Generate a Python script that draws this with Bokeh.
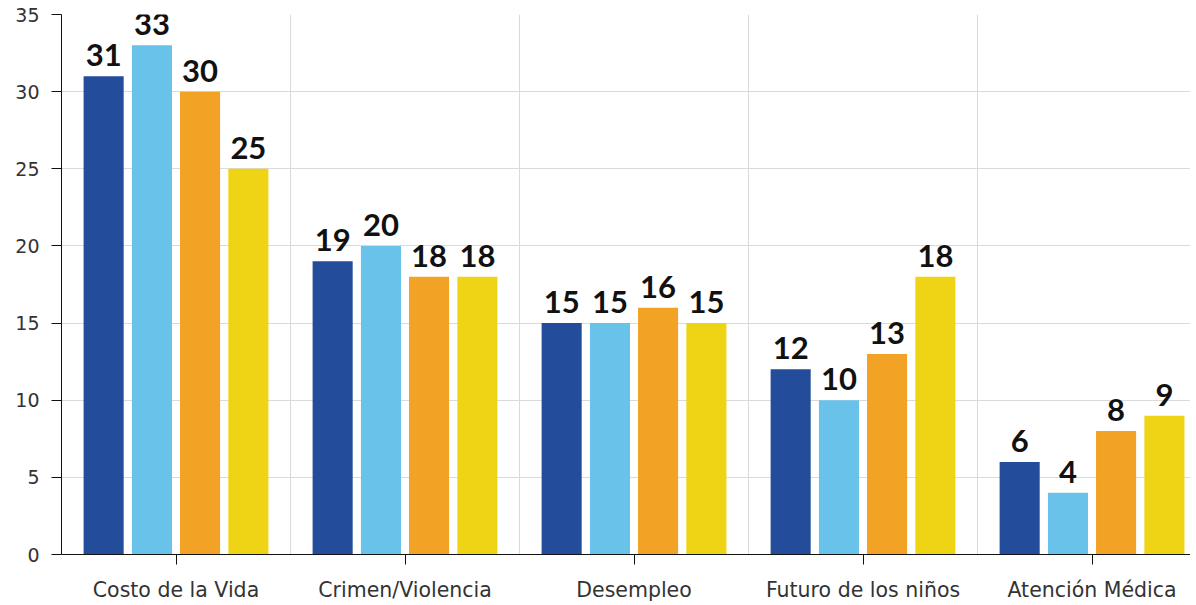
from bokeh.plotting import figure
from bokeh.models import ColumnDataSource, Range1d, FixedTicker
from bokeh.transform import dodge
from bokeh.core.properties import value
from bokeh.embed import file_html
from bokeh.resources import INLINE

categories = ["Costo de la Vida", "Crimen/Violencia", "Desempleo", "Futuro de los niños", "Atención Médica"]
serie_1 = [31, 19, 15, 12, 6]
serie_2 = [33, 20, 15, 10, 4]
serie_3 = [30, 18, 16, 13, 8]
serie_4 = [25, 18, 15, 18, 9]
y_ticks = [0, 5, 10, 15, 20, 25, 30, 35]

series = [serie_1, serie_2, serie_3, serie_4]
colors = ["#234D9B", "#69C2EA", "#F2A325", "#EFD416"]
offsets = [-0.316, -0.105, 0.105, 0.316]

centers = [i + 0.5 for i in range(len(categories))]

p = figure(width=1190, height=604, output_backend="svg", toolbar_location=None,
           x_range=Range1d(0, 4.93), y_range=Range1d(0, 35),
           min_border_left=61, min_border_right=0, min_border_top=14, min_border_bottom=49)
p.outline_line_color = None
p.background_fill_color = "white"
p.border_fill_color = "white"

for s, c, off in zip(series, colors, offsets):
    src = ColumnDataSource(dict(x=centers, v=s, t=[str(v) for v in s]))
    p.vbar(x=dodge("x", off, range=p.x_range), top="v", bottom=0, width=0.175,
           source=src, fill_color=c, line_color=None)
    p.text(x=dodge("x", off, range=p.x_range), y="v", text="t", source=src,
           text_align="center", text_baseline="alphabetic", y_offset=-21,
           text_font=value("Lato"), text_font_style="bold", text_font_size="31px",
           text_color="#111111")

p.xaxis.ticker = FixedTicker(ticks=centers)
p.xaxis.major_label_overrides = {c: lab for c, lab in zip(centers, categories)}
p.xaxis.minor_tick_line_color = None
p.xaxis.major_tick_in = 0
p.xaxis.major_tick_out = 10
p.xaxis.axis_line_color = "#111111"
p.xaxis.major_tick_line_color = "#111111"
p.xaxis.major_label_text_font = "DejaVu Sans"
p.xaxis.major_label_text_font_size = "20.5px"
p.xaxis.major_label_text_color = "#333333"
p.xaxis.major_label_standoff = 13

p.yaxis.ticker = FixedTicker(ticks=y_ticks)
p.yaxis.minor_tick_line_color = None
p.yaxis.major_tick_in = 0
p.yaxis.major_tick_out = 10
p.yaxis.axis_line_color = "#111111"
p.yaxis.major_tick_line_color = "#111111"
p.yaxis.major_label_text_font = "DejaVu Sans"
p.yaxis.major_label_text_font_size = "19px"
p.yaxis.major_label_text_color = "#333333"
p.yaxis.major_label_standoff = 12

p.xgrid.ticker = FixedTicker(ticks=[1, 2, 3, 4])
p.xgrid.grid_line_color = "#DADADA"
p.ygrid.grid_line_color = "#DADADA"

open("out.html", "w").write(file_html(p, INLINE))
